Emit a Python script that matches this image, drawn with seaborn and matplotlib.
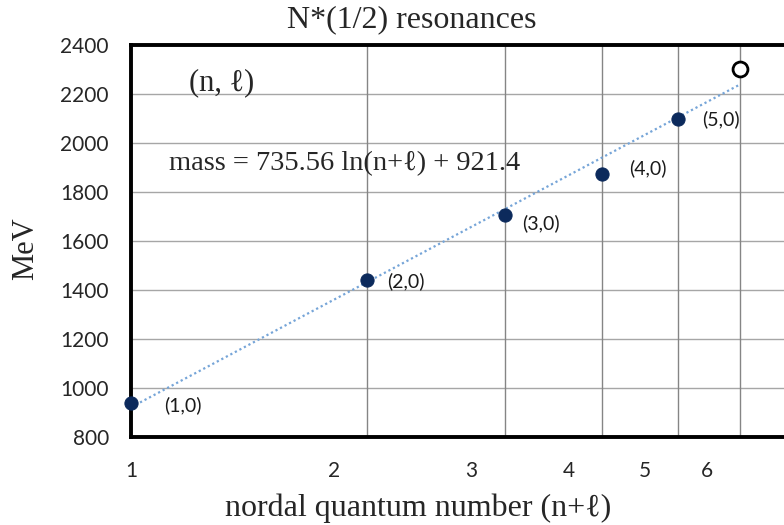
import matplotlib
matplotlib.use("Agg")
import matplotlib.pyplot as plt
import matplotlib.transforms as mtransforms
import seaborn as sns
import numpy as np
import pandas as pd

# data
nodal = [1, 2, 3, 4, 5]
mass = [940, 1440, 1708, 1875, 2098]
state_labels = ['(1,0)', '(2,0)', '(3,0)', '(4,0)', '(5,0)']
predicted_x = [6]
predicted_mass = [2302]
trend_slope = 735.56
trend_intercept = 921.4
trend_range = [1, 6]
y_ticks = [800, 1000, 1200, 1400, 1600, 1800, 2000, 2200, 2400]
x_ticks = [1, 2, 3, 4, 5, 6]

# where the point labels sit relative to their points (points)
label_offsets = [(24, -2), (15, -1), (13, -6), (19, 4), (17, 0)]

serif = ['Liberation Serif', 'DejaVu Serif']

sns.set_style("white")
plt.rcParams['font.family'] = ['Lato', 'DejaVu Sans']

fig = plt.figure(figsize=(7.84, 5.25), dpi=100)
ax = fig.add_axes([131 / 784, 1 - 437 / 525, (800 - 131) / 784, (437 - 45) / 525])

df = pd.DataFrame({'n': nodal, 'mass': mass})
trend_x = np.array(trend_range, dtype=float)
trend = pd.DataFrame({'n': trend_x, 'mass': trend_slope * np.log(trend_x) + trend_intercept})

ax.set_xscale('log')
ax.set_xlim(1, np.exp(669 / 340))
ax.set_ylim(800, 2400)

# grid
for y in y_ticks[1:-1]:
    ax.axhline(y, color='#a6a6a6', lw=1.0, zorder=0)
for x in x_ticks[1:]:
    ax.axvline(x, color='#858585', lw=1.0, zorder=0)

sns.lineplot(data=trend, x='n', y='mass', ax=ax, color='#76a5d8', lw=1.6,
             linestyle=(0, (1, 1.3)), zorder=2)
sns.scatterplot(data=df, x='n', y='mass', ax=ax, color='#0c2a5c', s=90,
                edgecolor='#0c2a5c', zorder=4, clip_on=False)
ax.scatter(predicted_x, predicted_mass, s=115, facecolor='white',
           edgecolor='black', linewidth=2.0, zorder=4, clip_on=False)

for x, y, lab, off in zip(nodal, mass, state_labels, label_offsets):
    ax.annotate(lab, (x, y), xytext=off, textcoords='offset points',
                ha='left', va='center', fontsize=14, color='#1a1a1a')

ax.set_xticks(x_ticks)
ax.set_xticklabels([str(t) for t in x_ticks])
ax.xaxis.set_minor_locator(matplotlib.ticker.NullLocator())
ax.set_yticks(y_ticks)
ax.tick_params(axis='x', length=0, pad=17, labelsize=15, labelcolor='#262626')
ax.tick_params(axis='y', length=0, pad=16, labelsize=15, labelcolor='#262626')

# tick labels sit a little left of their grid lines in the reference
for i, lab in enumerate(ax.get_xticklabels()):
    if i > 0:
        shift = mtransforms.ScaledTranslation(-33 / 100, 0, fig.dpi_scale_trans)
        lab.set_transform(lab.get_transform() + shift)

for side in ['top', 'bottom', 'left', 'right']:
    ax.spines[side].set_color('black')
    ax.spines[side].set_linewidth(2.8)

ax.set_xlabel('')
ax.set_ylabel('')

fig.text(189 / 784, 1 - 83 / 525, '(n, \u2113)', family=serif,
         fontsize=22, ha='left', va='center')
fig.text(169 / 784, 1 - 164 / 525, 'mass = 735.56 ln(n+\u2113) + 921.4',
         family=serif, fontsize=20.5, ha='left', va='center')
fig.text(412 / 784, 1 - 20 / 525, 'N*(1/2) resonances', family=serif,
         fontsize=23, ha='center', va='center')
fig.text(418 / 784, 1 - 508 / 525, 'nordal quantum number (n+\u2113)', family=serif,
         fontsize=23, ha='center', va='center')
fig.text(26 / 784, 1 - 249 / 525, 'MeV', family=serif, fontsize=22,
         rotation=90, ha='center', va='center')

fig.savefig('out.png', dpi=100)
